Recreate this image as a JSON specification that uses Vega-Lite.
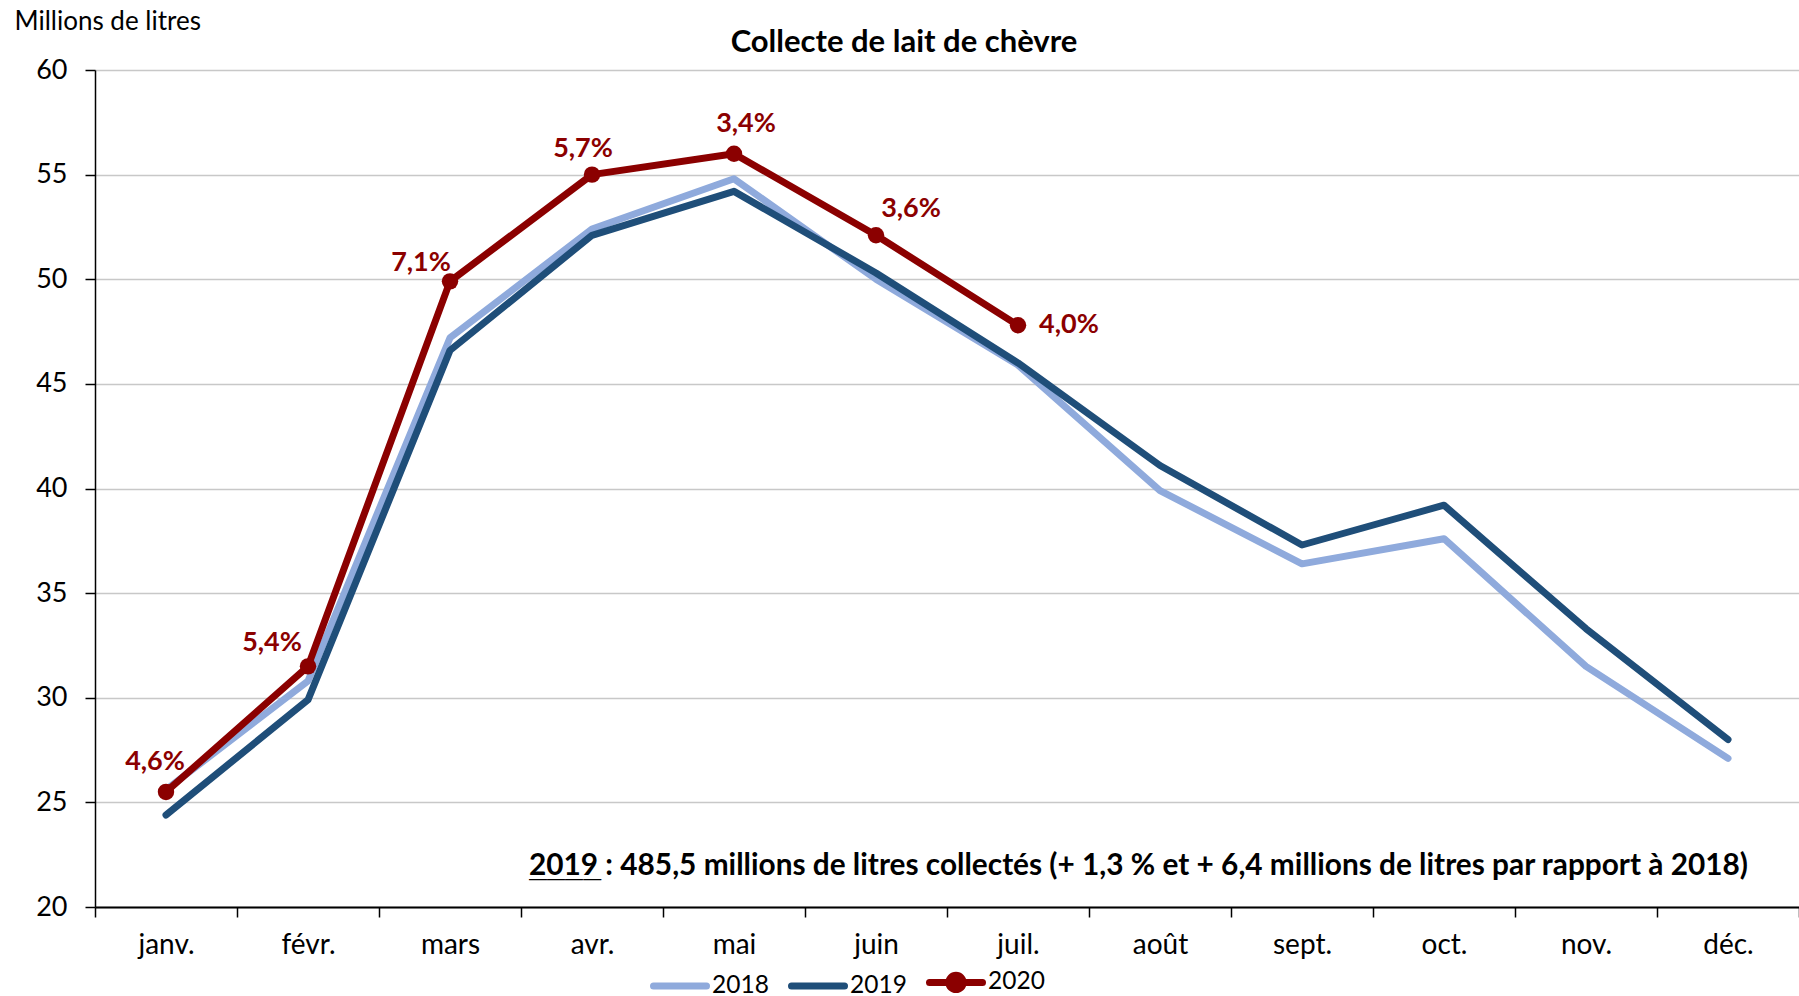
{
  "$schema": "https://vega.github.io/schema/vega-lite/v6.json",
  "width": 1704,
  "height": 837,
  "autosize": "none",
  "padding": {"left": 95, "top": 70, "right": 0, "bottom": 89},
  "background": "white",
  "config": {"font": "Lato", "view": {"stroke": null}},
  "title": {"text": "Collecte de lait de chèvre", "fontSize": 31, "fontWeight": "bold", "color": "black", "anchor": "middle", "dx": -43, "offset": -51, "font": "Lato"},
  "data": {"values": [
    {"month": "janv.", "year": "2018", "value": 25.6},
    {"month": "févr.", "year": "2018", "value": 30.8},
    {"month": "mars", "year": "2018", "value": 47.2},
    {"month": "avr.", "year": "2018", "value": 52.4},
    {"month": "mai", "year": "2018", "value": 54.8},
    {"month": "juin", "year": "2018", "value": 50.0},
    {"month": "juil.", "year": "2018", "value": 45.9},
    {"month": "août", "year": "2018", "value": 39.9},
    {"month": "sept.", "year": "2018", "value": 36.4},
    {"month": "oct.", "year": "2018", "value": 37.6},
    {"month": "nov.", "year": "2018", "value": 31.5},
    {"month": "déc.", "year": "2018", "value": 27.1},
    {"month": "janv.", "year": "2019", "value": 24.4},
    {"month": "févr.", "year": "2019", "value": 29.9},
    {"month": "mars", "year": "2019", "value": 46.6},
    {"month": "avr.", "year": "2019", "value": 52.1},
    {"month": "mai", "year": "2019", "value": 54.2},
    {"month": "juin", "year": "2019", "value": 50.3},
    {"month": "juil.", "year": "2019", "value": 46.0},
    {"month": "août", "year": "2019", "value": 41.1},
    {"month": "sept.", "year": "2019", "value": 37.3},
    {"month": "oct.", "year": "2019", "value": 39.2},
    {"month": "nov.", "year": "2019", "value": 33.3},
    {"month": "déc.", "year": "2019", "value": 28.0},
    {"month": "janv.", "year": "2020", "value": 25.5, "pct": "4,6%"},
    {"month": "févr.", "year": "2020", "value": 31.5, "pct": "5,4%"},
    {"month": "mars", "year": "2020", "value": 49.9, "pct": "7,1%"},
    {"month": "avr.", "year": "2020", "value": 55.0, "pct": "5,7%"},
    {"month": "mai", "year": "2020", "value": 56.0, "pct": "3,4%"},
    {"month": "juin", "year": "2020", "value": 52.1, "pct": "3,6%"},
    {"month": "juil.", "year": "2020", "value": 47.8, "pct": "4,0%"}
  ]},
  "encoding": {
    "x": {
      "field": "month", "type": "nominal",
      "sort": ["janv.", "févr.", "mars", "avr.", "mai", "juin", "juil.", "août", "sept.", "oct.", "nov.", "déc."],
      "bandPosition": 0.5,
      "scale": {"type": "band", "paddingInner": 0, "paddingOuter": 0},
      "axis": {"title": null, "tickBand": "extent", "labelAngle": 0, "grid": false, "domainColor": "black", "domainWidth": 2, "tickColor": "black", "tickWidth": 1.5, "tickSize": 10, "labelFontSize": 28, "labelColor": "black", "labelPadding": 14, "labelFont": "Lato"}
    },
    "y": {
      "field": "value", "type": "quantitative",
      "scale": {"domain": [20, 60], "nice": false, "zero": false},
      "axis": {"values": [20, 25, 30, 35, 40, 45, 50, 55, 60], "title": "Millions de litres", "titleAngle": 0, "titleAlign": "left", "titleBaseline": "middle", "titleX": -81, "titleY": -49, "titleFontSize": 26, "titleFontWeight": "normal", "titleColor": "black", "titleFont": "Lato", "grid": true, "gridColor": "#C8C8C8", "gridWidth": 1.5, "domainColor": "black", "domainWidth": 1.5, "tickColor": "black", "tickWidth": 1.5, "tickSize": 10, "labelFontSize": 27, "labelColor": "black", "labelPadding": 18, "labelFont": "Lato"}
    }
  },
  "layer": [
    {
      "mark": {"type": "line", "strokeCap": "round", "strokeJoin": "round"},
      "encoding": {
        "color": {"field": "year", "type": "nominal", "scale": {"domain": ["2018", "2019", "2020"], "range": ["#8FAADC", "#1F4E79", "#8B0000"]},
          "legend": {"title": null, "orient": "none", "direction": "horizontal", "legendX": 555, "legendY": 882, "symbolSize": 2809, "labelFontSize": 24.5, "labelColor": "black", "labelFont": "Lato", "labelOffset": 2, "columnPadding": 8,
            "encode": {"symbols": {"update": {
              "shape": {"signal": "datum.value === '2020' ? 'M-1,0H1M-0.27,0A0.27,0.27 0 1,0 0.27,0A0.27,0.27 0 1,0 -0.27,0Z' : 'M-1,0H1'"},
              "stroke": {"scale": "color", "field": "value"},
              "fill": {"scale": "color", "field": "value"},
              "strokeWidth": {"signal": "datum.value === '2020' ? 5.5 : 7"},
              "strokeCap": {"value": "round"},
              "opacity": {"value": 1},
              "fillOpacity": {"value": 1},
              "strokeOpacity": {"value": 1}
            }}}
          }
        },
        "strokeWidth": {"field": "year", "type": "ordinal", "scale": {"domain": ["2018", "2019", "2020"], "range": [7, 7, 5.5]}, "legend": null}
      }
    },
    {
      "transform": [{"filter": "datum.year === '2020'"}],
      "mark": {"type": "point", "filled": true, "size": 270, "opacity": 1, "shape": "circle"},
      "encoding": {
        "color": {"field": "year", "type": "nominal"}
      }
    },
    {
      "transform": [{"filter": "datum.month === 'janv.' && datum.year === '2020'"}],
      "mark": {"type": "text", "dx": -11, "dy": -30, "fontSize": 27, "fontWeight": "bold", "color": "#8B0000", "align": "center", "baseline": "middle"},
      "encoding": {"text": {"field": "pct"}}
    },
    {
      "transform": [{"filter": "datum.month === 'févr.' && datum.year === '2020'"}],
      "mark": {"type": "text", "dx": -36, "dy": -23, "fontSize": 27, "fontWeight": "bold", "color": "#8B0000", "align": "center", "baseline": "middle"},
      "encoding": {"text": {"field": "pct"}}
    },
    {
      "transform": [{"filter": "datum.month === 'mars' && datum.year === '2020'"}],
      "mark": {"type": "text", "dx": -29, "dy": -18, "fontSize": 27, "fontWeight": "bold", "color": "#8B0000", "align": "center", "baseline": "middle"},
      "encoding": {"text": {"field": "pct"}}
    },
    {
      "transform": [{"filter": "datum.month === 'avr.' && datum.year === '2020'"}],
      "mark": {"type": "text", "dx": -9, "dy": -26, "fontSize": 27, "fontWeight": "bold", "color": "#8B0000", "align": "center", "baseline": "middle"},
      "encoding": {"text": {"field": "pct"}}
    },
    {
      "transform": [{"filter": "datum.month === 'mai' && datum.year === '2020'"}],
      "mark": {"type": "text", "dx": 12, "dy": -30, "fontSize": 27, "fontWeight": "bold", "color": "#8B0000", "align": "center", "baseline": "middle"},
      "encoding": {"text": {"field": "pct"}}
    },
    {
      "transform": [{"filter": "datum.month === 'juin' && datum.year === '2020'"}],
      "mark": {"type": "text", "dx": 35, "dy": -26, "fontSize": 27, "fontWeight": "bold", "color": "#8B0000", "align": "center", "baseline": "middle"},
      "encoding": {"text": {"field": "pct"}}
    },
    {
      "transform": [{"filter": "datum.month === 'juil.' && datum.year === '2020'"}],
      "mark": {"type": "text", "dx": 21, "dy": 0, "fontSize": 27, "fontWeight": "bold", "color": "#8B0000", "align": "left", "baseline": "middle"},
      "encoding": {"text": {"field": "pct"}}
    },
    {
      "data": {"values": [{"month": "mars", "value": 22, "note": "2019 : 485,5 millions de litres collectés (+ 1,3 % et + 6,4 millions de litres par rapport à 2018)", "underline": "____"}]},
      "layer": [
        {
          "mark": {"type": "text", "align": "left", "baseline": "alphabetic", "dx": 79, "dy": 10, "fontSize": 29.8, "fontWeight": "bold", "color": "black"},
          "encoding": {"text": {"field": "note"}}
        },
        {
          "mark": {"type": "text", "align": "left", "baseline": "alphabetic", "dx": 79, "dy": 8, "fontSize": 30, "font": "DejaVu Sans Mono", "fontWeight": "normal", "color": "black"},
          "encoding": {"text": {"field": "underline"}}
        }
      ]
    }
  ]
}
